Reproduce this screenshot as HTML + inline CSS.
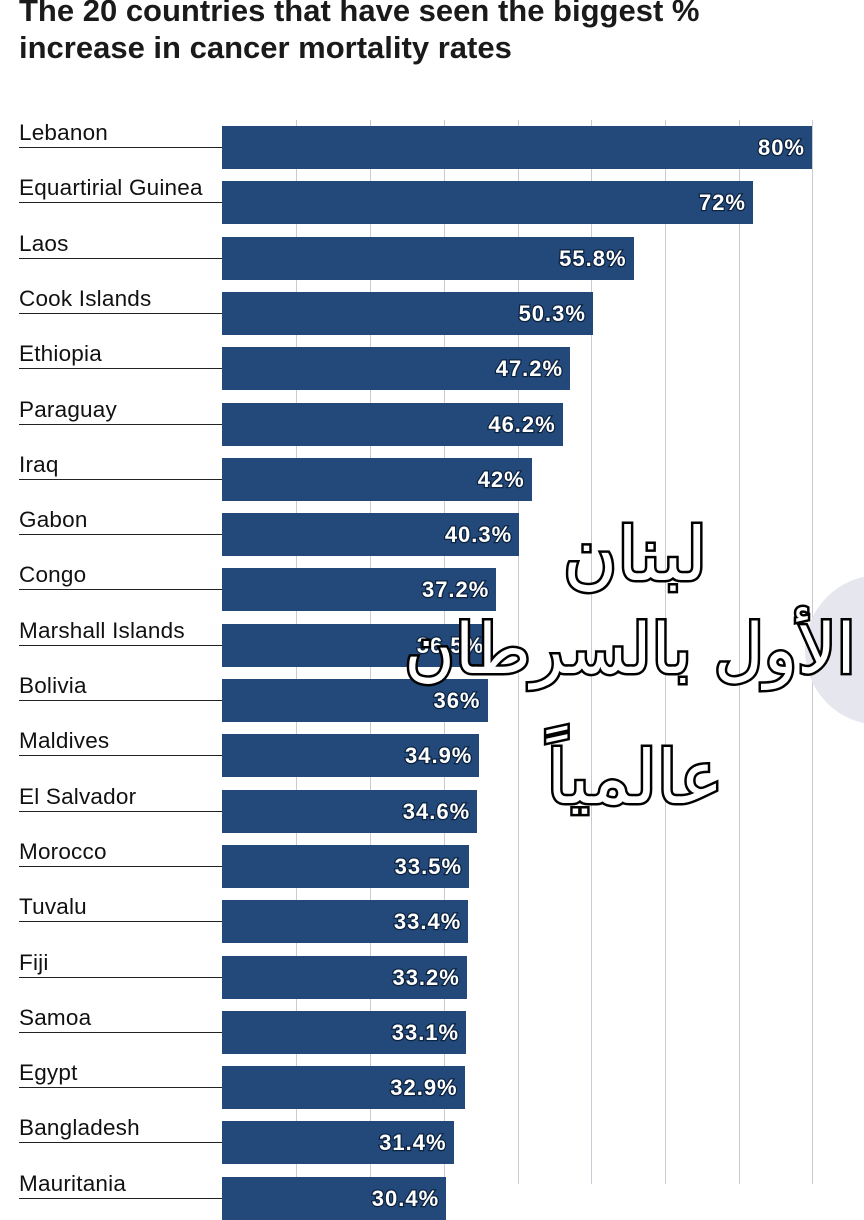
<!DOCTYPE html>
<html><head><meta charset="utf-8"><style>
body{margin:0;width:864px;height:1184px;overflow:hidden;background:#fff;position:relative;font-family:"Liberation Sans",sans-serif}
.t{position:absolute;left:19px;font-weight:bold;font-size:31px;color:#1a1a1a;line-height:36px;white-space:nowrap}
.g{position:absolute;top:120px;bottom:0;width:1px;background:#c9cad6}
.lab{position:absolute;left:19px;width:203px;font-size:22.5px;letter-spacing:0.2px;color:#111;border-bottom:1.5px solid #222;height:25px;line-height:22px;white-space:nowrap}
.bar{position:absolute;left:222px;height:43px;background:#22497a}
.v{position:absolute;right:7px;top:9px;font-weight:bold;font-size:22px;letter-spacing:1px;color:#fff;-webkit-text-stroke:2.5px #0d2340;paint-order:stroke fill}
.ar{position:absolute;font-family:"DejaVu Sans",sans-serif;color:#fff;-webkit-text-stroke:5px #000;paint-order:stroke fill;white-space:nowrap;text-align:center;direction:rtl}
</style></head><body>
<div class="t" style="top:-7px">The 20 countries that have seen the biggest %</div>
<div class="t" style="top:30px">increase in cancer mortality rates</div>
<div class="g" style="left:296px"></div><div class="g" style="left:370px"></div><div class="g" style="left:444px"></div><div class="g" style="left:518px"></div><div class="g" style="left:591px"></div><div class="g" style="left:665px"></div><div class="g" style="left:739px"></div><div class="g" style="left:812px"></div>
<div style="position:absolute;left:805px;top:575px;width:150px;height:150px;border-radius:50%;background:#e6e6ee"></div>
<div id="c"></div>
<script>
var d=[["Lebanon",80,"80%"],["Equartirial Guinea",72,"72%"],["Laos",55.8,"55.8%"],["Cook Islands",50.3,"50.3%"],["Ethiopia",47.2,"47.2%"],["Paraguay",46.2,"46.2%"],["Iraq",42,"42%"],["Gabon",40.3,"40.3%"],["Congo",37.2,"37.2%"],["Marshall Islands",36.5,"36.5%"],["Bolivia",36,"36%"],["Maldives",34.9,"34.9%"],["El Salvador",34.6,"34.6%"],["Morocco",33.5,"33.5%"],["Tuvalu",33.4,"33.4%"],["Fiji",33.2,"33.2%"],["Samoa",33.1,"33.1%"],["Egypt",32.9,"32.9%"],["Bangladesh",31.4,"31.4%"],["Mauritania",30.4,"30.4%"]];
var h="";
d.forEach(function(r,i){var y=126+i*55.3;
h+='<div class="lab" style="top:'+(y-4)+'px">'+r[0]+'</div>';
h+='<div class="bar" style="top:'+y+'px;width:'+(r[1]*7.375)+'px"><span class="v">'+r[2]+'</span></div>';});
document.getElementById("c").innerHTML=h;
</script>
<div class="ar" style="left:520px;top:512px;width:230px;font-size:74px">لبنان</div>
<div class="ar" style="left:380px;top:610px;width:500px;font-size:69px">الأول بالسرطان</div>
<div class="ar" style="left:520px;top:735px;width:230px;font-size:74px">عالمياً</div>
</body></html>
